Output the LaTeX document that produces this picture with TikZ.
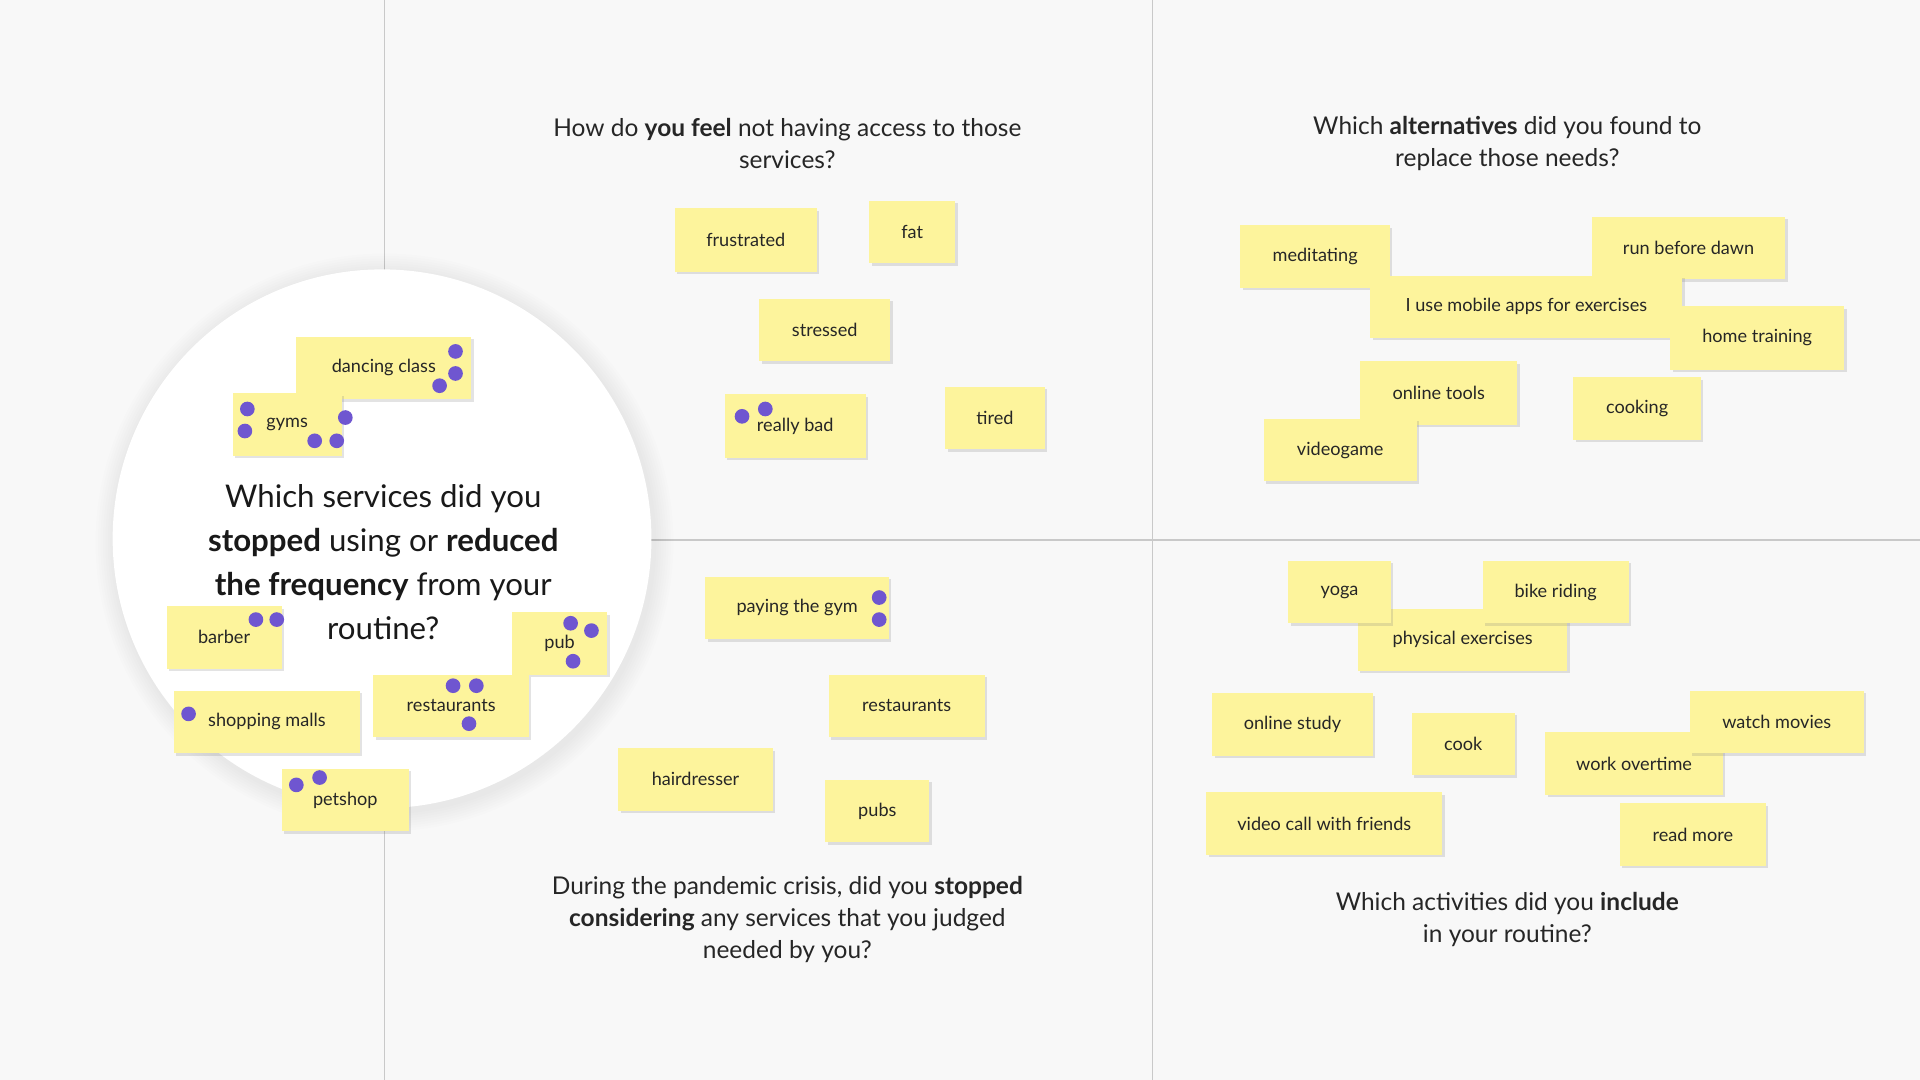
\documentclass[tikz,border=0pt]{standalone}
\usepackage{fontspec}
\setmainfont{Lato}
\usetikzlibrary{shadows}
\definecolor{bg}{HTML}{F8F8F8}
\definecolor{stick}{HTML}{FDF49C}
\definecolor{dotc}{HTML}{6F56D0}
\definecolor{ln}{HTML}{C9C9C9}
\tikzset{
 note/.style={fill=stick,draw=none,drop shadow={opacity=0.22,shadow xshift=2pt,shadow yshift=-2pt}},
 ntext/.style={font=\fontsize{14.8}{16}\selectfont,text=black!85,inner sep=0},
 vote/.style={fill=dotc,draw=none},
 qtext/.style={font=\fontsize{20}{26}\selectfont,align=center,text=black!85,inner sep=0},
 ctext/.style={font=\fontsize{25.5}{36}\selectfont,align=center,text=black!90,inner sep=0}
}
\newcommand{\sticky}[6]{% name, x1,y1,x2,y2,text
 \path[note] (#2,#3) rectangle (#4,#5);
 \node[ntext] (#1) at ({(#2+#4)/2},{(#3+#5)/2}) {#6};}
\newcommand{\vdot}[2]{\fill[vote] (#1,#2) circle (6);}
\begin{document}
\begin{tikzpicture}[x=1pt,y=-1pt]
\fill[bg] (0,0) rectangle (1568,882);
\useasboundingbox (0,0) rectangle (1568,882);
\draw[ln,line width=1pt] (314,0) -- (314,882);
\draw[ln,line width=1pt] (941,0) -- (941,882);
\draw[ln,line width=1pt] (314,441) -- (1568,441);
% circle
\foreach \r in {236,234,...,221}{\fill[black,opacity=0.006] (314,443) circle (\r);}
\fill[white] (312,440) circle (220);
\node[ctext] (cq) at (313,459) {Which services did you\\\textbf{stopped} using or \textbf{reduced}\\\textbf{the frequency} from your\\routine?};
% questions
\node[qtext] (q1) at (643,117) {How do \textbf{you feel} not having access to those\\services?};
\node[qtext] (q2) at (1231,117) {Which \textbf{alternatives} did you found to\\replace those needs?};
\node[qtext] (q3) at (643,751) {During the pandemic crisis, did you \textbf{stopped}\\\textbf{considering} any services that you judged\\needed by you?};
\node[qtext] (q4) at (1231,751) {Which activities did you \textbf{include}\\in your routine?};
% feel
\sticky{a1}{551}{170}{667}{222}{frustrated}
\sticky{a2}{710}{164}{780}{215}{fat}
\sticky{a3}{620}{244}{727}{295}{stressed}
\sticky{a4}{592}{322}{707}{374}{really bad}
\sticky{a5}{772}{316}{853}{367}{tired}
\vdot{606}{340}\vdot{625}{334}
% alternatives
\sticky{b1}{1013}{184}{1135}{235}{meditating}
\sticky{b2}{1300}{177}{1458}{228}{run before dawn}
\sticky{b3}{1119}{225}{1374}{276}{I use mobile apps for exercises}
\sticky{b4}{1364}{250}{1506}{302}{home training}
\sticky{b5}{1111}{295}{1239}{347}{online tools}
\sticky{b6}{1285}{308}{1389}{359}{cooking}
\sticky{b7}{1032}{342}{1157}{393}{videogame}
% services
\sticky{c1}{242}{275}{385}{326}{dancing class}
\sticky{c2}{190}{321}{279}{372}{gyms}
\sticky{c3}{136}{495}{230}{546}{barber}
\sticky{c4}{418}{500}{496}{551}{pub}
\sticky{c5}{305}{551}{432}{602}{restaurants}
\sticky{c6}{142}{564}{294}{615}{shopping malls}
\sticky{c7}{230}{628}{334}{679}{petshop}
\vdot{372}{287}\vdot{372}{305}\vdot{359}{315}
\vdot{202}{334}\vdot{200}{352}\vdot{282}{341}\vdot{257}{360}\vdot{275}{360}
\vdot{209}{506}\vdot{226}{506}
\vdot{466}{509}\vdot{483}{515}\vdot{468}{540}
\vdot{370}{560}\vdot{389}{560}\vdot{383}{591}
\vdot{154}{583}
\vdot{242}{641}\vdot{261}{635}
% stopped considering
\sticky{d1}{576}{471}{726}{522}{paying the gym}
\sticky{d2}{677}{551}{804}{602}{restaurants}
\sticky{d3}{505}{611}{631}{662}{hairdresser}
\sticky{d4}{674}{637}{759}{688}{pubs}
\vdot{718}{488}\vdot{718}{506}
% activities
\sticky{e3}{1109}{497}{1280}{548}{physical exercises}
\sticky{e1}{1052}{458}{1136}{509}{yoga}
\sticky{e2}{1211}{458}{1330}{509}{bike riding}
\sticky{e4}{990}{566}{1121}{617}{online study}
\sticky{e5}{1153}{582}{1237}{633}{cook}
\sticky{e7}{1262}{598}{1407}{649}{work overtime}
\sticky{e6}{1380}{564}{1522}{615}{watch movies}
\sticky{e8}{985}{647}{1178}{698}{video call with friends}
\sticky{e9}{1323}{656}{1442}{707}{read more}
\end{tikzpicture}
\end{document}
